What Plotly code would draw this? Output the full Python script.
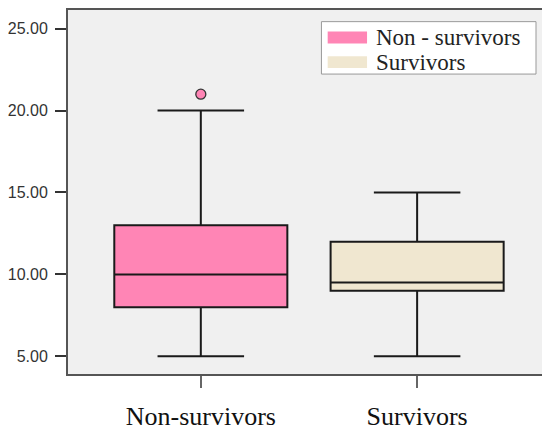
import plotly.graph_objects as go

# group summary values
groups = ["Non-survivors", "Survivors"]
legend_labels = ["Non - survivors", "Survivors"]
q1 = [8, 9]
median = [10, 9.5]
q3 = [13, 12]
lower = [5, 5]
upper = [20, 15]
outlier_group = ["Non-survivors"]
outlier_y = [21]
y_ticks = [5, 10, 15, 20, 25]

fills = ["#FF85B5", "#F0E7D0"]
serif = "Liberation Serif"

fig = go.Figure()
for i, g in enumerate(groups):
    fig.add_trace(go.Box(
        x=[g], q1=[q1[i]], median=[median[i]], q3=[q3[i]],
        lowerfence=[lower[i]], upperfence=[upper[i]],
        fillcolor=fills[i], line=dict(color="#1a1a1a", width=2),
        width=0.8, whiskerwidth=0.5, boxpoints=False,
        name=legend_labels[i], showlegend=False,
    ))

fig.add_trace(go.Scatter(
    x=outlier_group, y=outlier_y, mode="markers",
    marker=dict(size=10, color=fills[0], line=dict(color="#333333", width=1.3)),
    showlegend=False,
))

# hand-made legend with wide swatches, as in the original
shapes = [dict(type="rect", xref="paper", yref="paper",
               x0=0.528, x1=0.975, y0=0.824, y1=0.968,
               fillcolor="white", line=dict(color="#999999", width=1))]
annotations = []
rows = [(0.941, 0.908, 0.924), (0.873, 0.841, 0.857)]
for (top, bot, mid), col, lab in zip(rows, fills, legend_labels):
    shapes.append(dict(type="rect", xref="paper", yref="paper",
                       x0=0.541, x1=0.623, y0=bot, y1=top,
                       fillcolor=col, line=dict(width=0)))
    annotations.append(dict(xref="paper", yref="paper", x=0.638, y=mid,
                            text=lab, showarrow=False, xanchor="left",
                            yanchor="middle",
                            font=dict(family=serif, size=23, color="#222222")))

# page body keeps an 8px margin, so the figure is 8px smaller each way
fig.update_layout(
    width=542, height=423,
    margin=dict(l=57, r=0, t=0, b=54),
    paper_bgcolor="white", plot_bgcolor="#F0F0F0",
    shapes=shapes, annotations=annotations,
    boxmode="overlay",
)
fig.update_xaxes(
    type="category", range=[-0.614, 1.605],
    showgrid=False, zeroline=False,
    showline=True, mirror=True, linecolor="#555555", linewidth=2,
    ticks="outside", ticklen=12, tickwidth=2, tickcolor="#666666",
    ticklabelstandoff=6,
    tickfont=dict(family=serif, size=26, color="#111111"),
)
fig.update_yaxes(
    range=[3.92, 26.14], tickvals=y_ticks, tickformat=".2f",
    showgrid=False, zeroline=False,
    showline=True, mirror=True, linecolor="#555555", linewidth=2,
    ticks="outside", ticklen=11, tickwidth=2, tickcolor="#333333",
    ticklabelstandoff=4,
    tickfont=dict(family="Liberation Sans", size=16, color="#333333"),
)

fig.write_html("out.html")
